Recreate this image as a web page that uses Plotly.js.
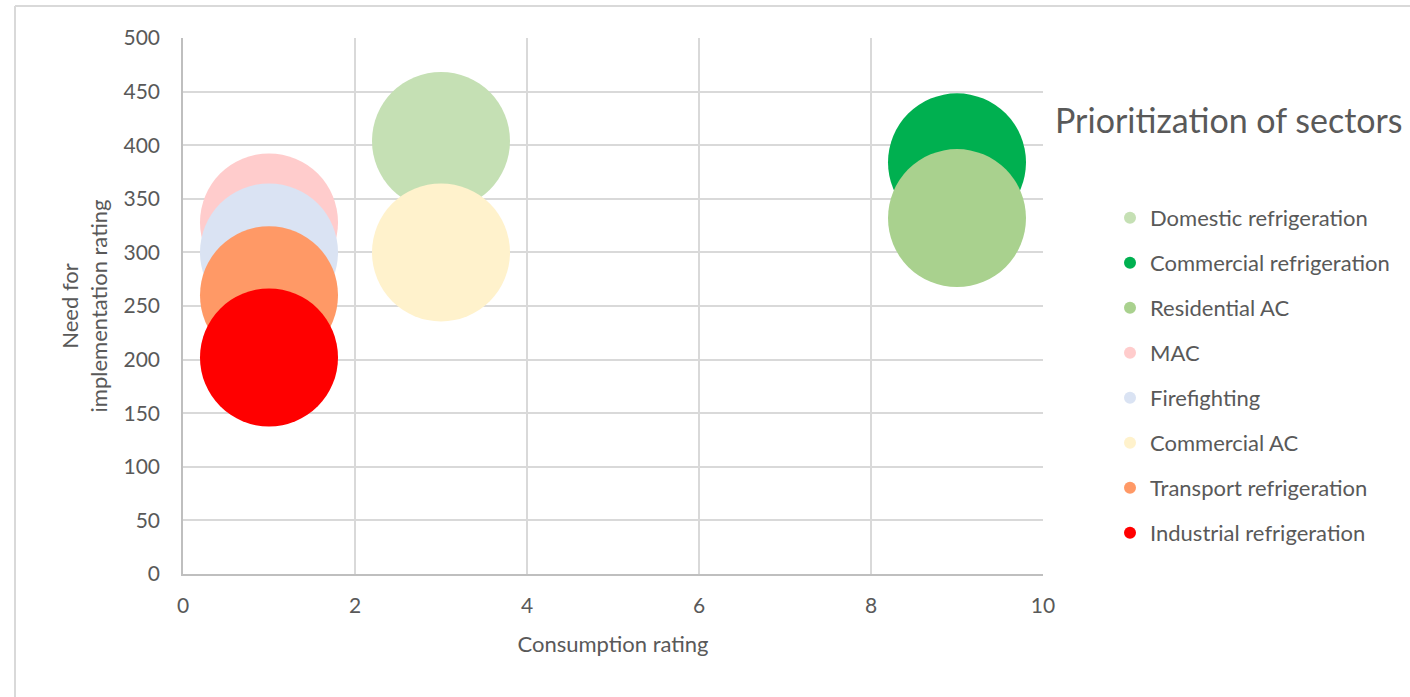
<!DOCTYPE html>
<html>
<head>
<meta charset="utf-8">
<script src="https://cdn.plot.ly/plotly-3.0.1.min.js"></script>
<style>
  html, body { margin: 0; padding: 0; background: #ffffff; }
  #chart { width: 1410px; height: 697px; }
</style>
</head>
<body>
<div id="chart"></div>
<script>
// ---- data ----
const sectors = [
  "Domestic refrigeration",
  "Commercial refrigeration",
  "Residential AC",
  "MAC",
  "Firefighting",
  "Commercial AC",
  "Transport refrigeration",
  "Industrial refrigeration"
];
const consumptionRating = [3, 9, 9, 1, 1, 3, 1, 1];
const needRating = [404, 384, 332, 328, 300, 300, 260, 202];
const bubbleSize = [10, 10, 10, 10, 10, 10, 10, 10];
const colors = ["#C5E0B4", "#00B050", "#A9D18E", "#FFCCCC", "#DAE3F3", "#FFF2CC", "#FF9966", "#FF0000"];
const xTicks = [0, 2, 4, 6, 8, 10];
const yTicks = [0, 50, 100, 150, 200, 250, 300, 350, 400, 450, 500];

const textColor = "#595959";
const fontFamily = "Lato, 'Open Sans', sans-serif";
const bubbleDiameterPx = 138;

const traces = sectors.map((name, i) => ({
  type: "scatter",
  mode: "markers",
  name: name,
  legendgroup: "g" + i,
  x: [consumptionRating[i]],
  y: [needRating[i]],
  marker: {
    size: [bubbleSize[i]],
    sizemode: "diameter",
    sizeref: bubbleSize[0] / bubbleDiameterPx,
    color: colors[i],
    opacity: 1,
    line: { width: 0 }
  },
  hovertemplate: name + "<br>Consumption: %{x}<br>Need: %{y}<extra></extra>"
}));

const layout = {
  width: 1410,
  height: 697,
  paper_bgcolor: "#ffffff",
  plot_bgcolor: "#ffffff",
  font: { family: fontFamily, color: textColor, size: 21 },
  margin: { l: 183, r: 367, t: 38, b: 123, pad: 0 },
  title: {
    text: "Prioritization of sectors",
    font: { family: fontFamily, size: 34, color: textColor },
    xref: "container", yref: "container",
    x: 1055 / 1410, xanchor: "left",
    y: 1 - 121 / 697, yanchor: "middle"
  },
  xaxis: {
    range: [0, 10],
    tickvals: xTicks,
    ticktext: xTicks.map(String),
    showgrid: true,
    gridcolor: "#D9D9D9",
    gridwidth: 1.5,
    zeroline: false,
    showline: true,
    linecolor: "#BFBFBF",
    linewidth: 1.5,
    ticks: "",
    ticklabelstandoff: 12,
    tickfont: { size: 21, color: textColor },
    title: { text: "Consumption rating", font: { size: 22, color: textColor }, standoff: 21 },
    fixedrange: true
  },
  yaxis: {
    range: [0, 500],
    tickvals: yTicks,
    ticktext: yTicks.map(String),
    showgrid: true,
    gridcolor: "#D9D9D9",
    gridwidth: 1.5,
    zeroline: false,
    showline: true,
    linecolor: "#BFBFBF",
    linewidth: 1.5,
    ticks: "",
    ticklabelstandoff: 17,
    tickfont: { size: 21, color: textColor },
    title: { text: "Need for<br>implementation rating", font: { size: 22, color: textColor }, standoff: 10 },
    fixedrange: true
  },
  showlegend: true,
  legend: {
    x: (1110 - 183) / 860,
    xanchor: "left",
    y: (574 - 197) / 536,
    yanchor: "top",
    font: { size: 22, color: textColor },
    itemsizing: "constant",
    tracegroupgap: 13.4,
    bgcolor: "rgba(0,0,0,0)",
    borderwidth: 0
  },
  shapes: [
    { type: "line", xref: "paper", yref: "paper",
      x0: (15 - 183) / 860, x1: (1410 - 183) / 860,
      y0: (574 - 6) / 536, y1: (574 - 6) / 536,
      line: { color: "#D9D9D9", width: 2 } },
    { type: "line", xref: "paper", yref: "paper",
      x0: (15 - 183) / 860, x1: (15 - 183) / 860,
      y0: (574 - 6) / 536, y1: (574 - 697) / 536,
      line: { color: "#D9D9D9", width: 2 } }
  ]
};

Plotly.newPlot("chart", traces, layout, { displayModeBar: false, staticPlot: false });
</script>
</body>
</html>
